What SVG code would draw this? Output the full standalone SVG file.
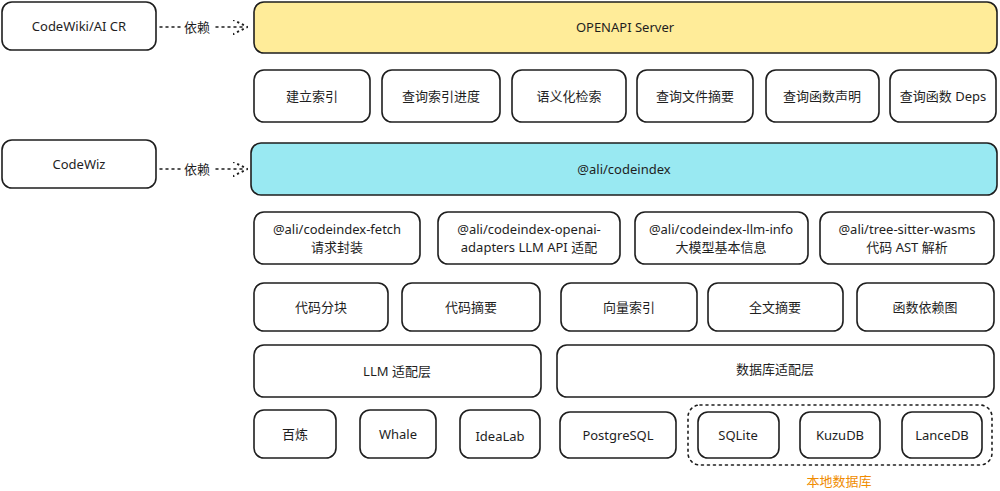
<svg xmlns="http://www.w3.org/2000/svg" width="1000" height="491" viewBox="0 0 1000 491">
<defs>
<style>
rect{fill:#fff;stroke:#1e1e1e;stroke-width:1.6}
text{font-family:"Comic Sans MS","Noto Sans","Noto Sans CJK SC",sans-serif;font-size:13px;fill:#1e1e1e;text-anchor:middle;dominant-baseline:central}
.c{fill:none;stroke:#1e1e1e;stroke-width:1.5;stroke-dasharray:2 4;stroke-linecap:round}
</style>
<marker id="a" viewBox="0 0 10 10" refX="9" refY="5" markerWidth="10" markerHeight="10" orient="auto"><path d="M0,0 L10,5 L0,10" fill="none" stroke="#1e1e1e" stroke-width="1.3" stroke-dasharray="1.5 2"/></marker>
</defs>
<rect width="1000" height="491" style="fill:#fff;stroke:none"/>
<g id="connectors">
<path class="c" d="M160,27 H180"/><text x="197" y="27">依赖</text><path class="c" d="M216,27 H246" marker-end="url(#a)"/>
<path class="c" d="M160,169 H180"/><text x="197" y="169">依赖</text><path class="c" d="M216,169 H246" marker-end="url(#a)"/>
</g>
<g id="n-codewiki"><rect x="2" y="2" width="154" height="48" rx="10"/><text x="79" y="26">CodeWiki/AI CR</text></g>
<g id="n-codewiz"><rect x="2" y="140" width="154" height="48" rx="10"/><text x="79" y="164">CodeWiz</text></g>
<g id="n-openapi"><rect x="254" y="2" width="743" height="51" rx="10" style="fill:#ffec99"/><text x="625" y="27">OPENAPI Server</text></g>
<g id="n-r1"><rect x="254" y="70" width="116" height="52" rx="10"/><text x="312" y="96">建立索引</text></g>
<g id="n-r2"><rect x="382" y="70" width="118" height="52" rx="10"/><text x="441" y="96">查询索引进度</text></g>
<g id="n-r3"><rect x="512" y="70" width="114" height="52" rx="10"/><text x="569" y="96">语义化检索</text></g>
<g id="n-r4"><rect x="637" y="70" width="116" height="52" rx="10"/><text x="695" y="96">查询文件摘要</text></g>
<g id="n-r5"><rect x="766" y="70" width="113" height="52" rx="10"/><text x="822" y="96">查询函数声明</text></g>
<g id="n-r6"><rect x="890" y="70" width="106" height="52" rx="10"/><text x="943" y="96">查询函数 Deps</text></g>
<g id="n-codeindex"><rect x="251" y="143" width="746" height="52" rx="10" style="fill:#99e9f2"/><text x="624" y="169">@ali/codeindex</text></g>
<g id="n-p1"><rect x="254" y="212" width="166" height="52" rx="10"/><text x="337" y="229">@ali/codeindex-fetch</text><text x="337" y="247">请求封装</text></g>
<g id="n-p2"><rect x="438" y="212" width="182" height="52" rx="10"/><text x="529" y="229">@ali/codeindex-openai-</text><text x="529" y="247">adapters LLM API 适配</text></g>
<g id="n-p3"><rect x="635" y="212" width="173" height="52" rx="10"/><text x="721" y="229">@ali/codeindex-llm-info</text><text x="721" y="247">大模型基本信息</text></g>
<g id="n-p4"><rect x="820" y="212" width="174" height="52" rx="10"/><text x="907" y="229">@ali/tree-sitter-wasms</text><text x="907" y="247">代码 AST 解析</text></g>
<g id="n-f1"><rect x="254" y="283" width="134" height="48" rx="10"/><text x="321" y="307">代码分块</text></g>
<g id="n-f2"><rect x="402" y="283" width="138" height="48" rx="10"/><text x="471" y="307">代码摘要</text></g>
<g id="n-f3"><rect x="561" y="283" width="136" height="48" rx="10"/><text x="629" y="307">向量索引</text></g>
<g id="n-f4"><rect x="708" y="283" width="135" height="48" rx="10"/><text x="775" y="307">全文摘要</text></g>
<g id="n-f5"><rect x="857" y="283" width="137" height="48" rx="10"/><text x="925" y="307">函数依赖图</text></g>
<g id="n-llm"><rect x="254" y="345" width="287" height="52" rx="10"/><text x="397" y="371">LLM 适配层</text></g>
<g id="n-db"><rect x="557" y="345" width="437" height="52" rx="10"/><text x="775" y="369">数据库适配层</text></g>
<g id="n-b1"><rect x="254" y="410" width="82" height="48" rx="10"/><text x="295" y="434">百炼</text></g>
<g id="n-b2"><rect x="360" y="410" width="76" height="48" rx="10"/><text x="398" y="434">Whale</text></g>
<g id="n-b3"><rect x="460" y="410" width="80" height="48" rx="10"/><text x="500" y="436">IdeaLab</text></g>
<g id="n-b4"><rect x="560" y="412" width="116" height="46" rx="10"/><text x="618" y="435">PostgreSQL</text></g>
<g id="n-local"><rect x="688" y="405" width="304" height="60" rx="12" style="fill:none;stroke-dasharray:2 4;stroke-linecap:round"/><text x="839" y="481" style="fill:#f08c00">本地数据库</text></g>
<g id="n-b5"><rect x="698" y="412" width="81" height="46" rx="10"/><text x="738" y="435">SQLite</text></g>
<g id="n-b6"><rect x="800" y="412" width="80" height="46" rx="10"/><text x="840" y="435">KuzuDB</text></g>
<g id="n-b7"><rect x="902" y="412" width="80" height="46" rx="10"/><text x="942" y="435">LanceDB</text></g>
</svg>
